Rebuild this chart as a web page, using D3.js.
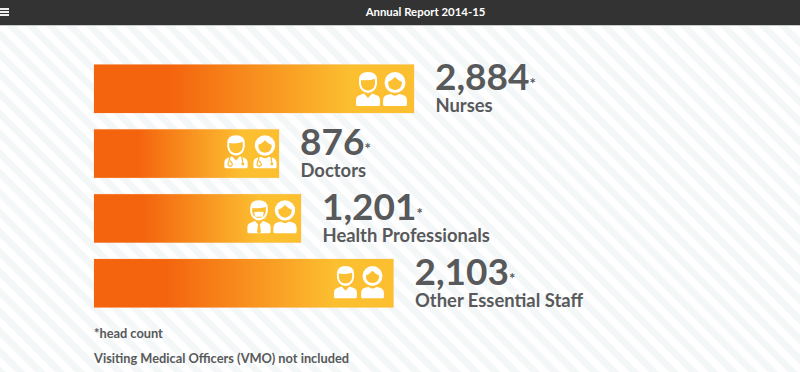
<!DOCTYPE html>
<html><head><meta charset="utf-8">
<script src="https://cdn.jsdelivr.net/npm/d3@7"></script>
<style>html,body{margin:0;padding:0;background:#fff;overflow:hidden}svg{display:block}text{font-family:Lato,sans-serif}</style>
</head><body><script>
const categories = ["Nurses","Doctors","Health Professionals","Other Essential Staff"];
const values = [2884,876,1201,2103];
const labels = ["2,884","876","1,201","2,103"];
const iconPairs = [["man","woman"],["doctorM","doctorF"],["elder","woman2"],["man","woman2"]];
const notes = ["*head count","Visiting Medical Officers (VMO) not included"];
const title = "Annual Report 2014-15";

const W=800,H=372, X0=94, GOLD="#fcbf30", INK="#58595b";
const svg=d3.select("body").append("svg").attr("width",W).attr("height",H);
const defs=svg.append("defs");
const pat=defs.append("pattern").attr("id","stripes").attr("patternUnits","userSpaceOnUse")
  .attr("width",14).attr("height",14).attr("patternTransform","rotate(-45)");
pat.append("rect").attr("width",14).attr("height",14).attr("fill","#fff");
pat.append("rect").attr("width",7).attr("height",14).attr("fill","#f4f7f7");
const grad=defs.append("linearGradient").attr("id","barGrad");
[[0.24,"#f4640e"],[0.80,GOLD]].forEach(s=>grad.append("stop").attr("offset",s[0]).attr("stop-color",s[1]));

svg.append("rect").attr("width",W).attr("height",H).attr("fill","url(#stripes)");
svg.append("rect").attr("width",W).attr("height",26).attr("fill","#c9c9c9");
svg.append("rect").attr("width",W).attr("height",25).attr("fill","#333");
svg.append("text").attr("x",425.5).attr("y",16).attr("text-anchor","middle").attr("fill","#fff")
  .attr("font-size",11.4).attr("font-weight",700).text(title);
[8,11,14].forEach(y=>svg.append("rect").attr("x",0).attr("y",y).attr("width",9).attr("height",2).attr("fill","#eee"));

const order=d3.range(values.length).sort((a,b)=>values[a]-values[b]);
const w=d3.scaleLinear().domain(order.map(i=>values[i])).range([185,207,299.5,320]);
const y=d3.scalePoint().domain(categories).range([64.5,259]);
const H_BAR=48.5;

const iconBits={
 body:"M-11,34Q-12,34 -12,32L-12,28Q-12,24 -8,23L-4,21.5L0,26L4,21.5L8,23Q12,24 12,28L12,32Q12,34 11,34Z",
 bodyF:"M-11,34Q-12,34 -12,32L-12,29Q-12,24 -8,23L-4,22Q0,25.5 4,22L8,23Q12,24 12,29L12,32Q12,34 11,34Z"
};
function head(g,kind){
 const white=p=>g.append("path").attr("d",p).attr("fill","#fff");
 const gold=p=>g.append("path").attr("d",p).attr("fill",GOLD);
 if(kind==="woman"||kind==="woman2"||kind==="doctorF"){
  g.append("circle").attr("cx",0).attr("cy",10.5).attr("r",10.5).attr("fill","#fff");
  gold("M-7,10Q-3,8.5 0,5Q3,8.5 7,10Q7,17.5 0,18Q-7,17.5 -7,10Z");
  white(iconBits.bodyF);
 } else {
  white("M-9,8Q-9,0 0,0Q9,0 9,8L9,12Q8,20 0,21Q-8,20 -9,12Z");
  gold("M-7,8Q0,9 7,7L7,12Q6,18 0,18.5Q-6,18 -7,12Z");
  white(iconBits.body);
  if(kind==="elder"){
   white("M-5,12L5,12L4,17L-4,17Z");
   gold("M-6,9.5h4.5v2.5h-4.5ZM1.5,9.5h4.5v2.5h-4.5Z");
   gold("M-1,25L1,25L2,33L0,34L-2,33Z");
  }
 }
 if(kind==="doctorM"||kind==="doctorF"){
  g.append("path").attr("d","M-6,22L-8,29Q-9,31 -6,32Q-3,31 -4,29L-6,26M6,22L7,28").attr("fill","none").attr("stroke",GOLD).attr("stroke-width",1.3);
  g.append("circle").attr("cx",7).attr("cy",29.5).attr("r",1.5).attr("fill",GOLD);
 }
}

const layout=[
 {off:[-46,-19],top:7.5,s:1},
 {off:[-43,-14],top:6,s:0.97},
 {off:[-42,-16],top:6,s:0.97},
 {off:[-48,-21],top:7,s:0.95}];

const rows=svg.selectAll("g.row").data(categories).join("g").attr("class","row")
 .attr("transform",d=>`translate(${X0},${y(d)})`);
rows.append("rect").attr("x",-0.5).attr("y",-0.5).attr("width",(d,i)=>w(values[i])+1).attr("height",H_BAR+1).attr("fill","#fbe3cf").attr("opacity",.8);
rows.append("rect").attr("width",(d,i)=>w(values[i])).attr("height",H_BAR).attr("fill","url(#barGrad)");
rows.each(function(d,i){
 const g=d3.select(this), L=w(values[i]);
 iconPairs[i].forEach((k,j)=>{
  const ic=g.append("g").attr("transform",`translate(${L+layout[i].off[j]},${layout[i].top}) scale(${layout[i].s})`);
  head(ic,k);
 });
 const t=g.append("text").attr("x",L+21).attr("y",25.5).attr("fill",INK).attr("font-size",37).attr("font-weight",700);
 t.append("tspan").text(labels[i]);
 t.append("tspan").attr("font-size",15).attr("dy",-1).text("*");
 g.append("text").attr("x",L+21.5).attr("y",47.5).attr("fill",INK).attr("font-size",18.4).attr("font-weight",700).text(d);
});
svg.selectAll("text.note").data(notes).join("text").attr("class","note").attr("x",94)
 .attr("y",(d,i)=>338+i*25).attr("fill",INK).attr("font-size",12.8).attr("font-weight",700).text(d=>d);
</script></body></html>
